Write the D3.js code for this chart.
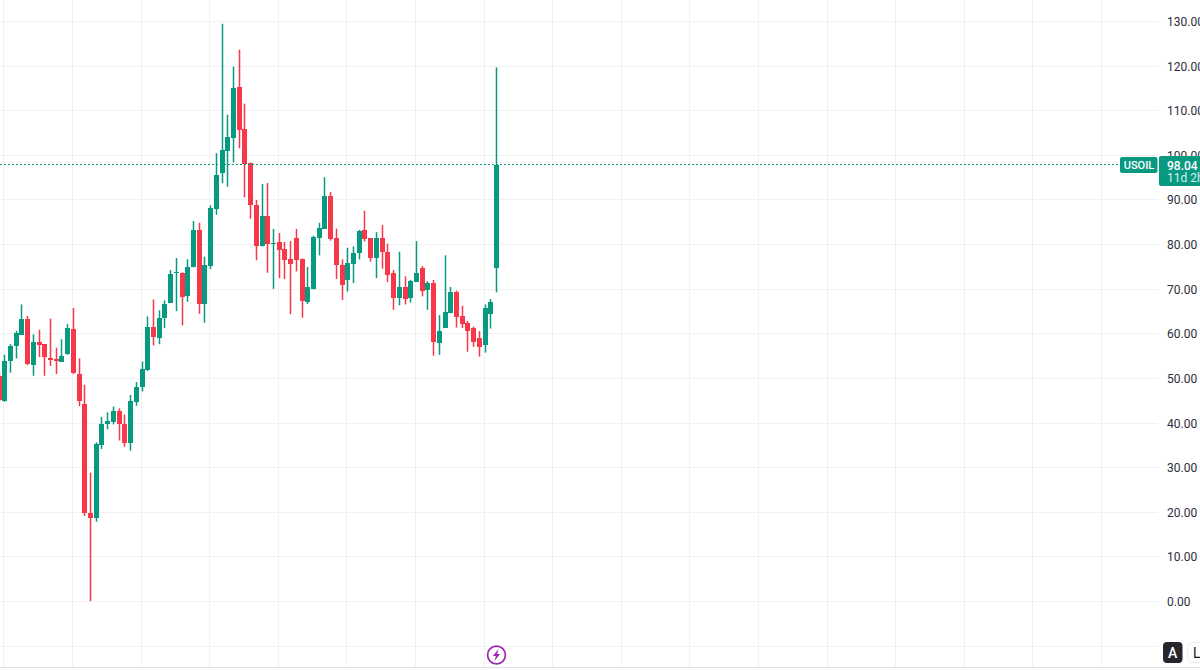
<!DOCTYPE html>
<html>
<head>
<meta charset="utf-8">
<script src="https://cdn.jsdelivr.net/npm/d3@7/dist/d3.min.js"></script>
<style>
html,body{margin:0;padding:0;background:#fff;overflow:hidden}
svg{display:block}
text{font-family:Roboto,"Liberation Sans",sans-serif}
</style>
</head>
<body>
<svg id="chart" width="1200" height="670"></svg>
<script>
// USOIL candles, oldest first
const firstIndex = -1;
const opens  = [50.7,45.1,54.0,57.2,60.0,63.5,53.1,58.3,57.8,54.7,54.4,53.9,55.6,61.2,51.1,44.4,20.0,18.8,35.2,39.8,40.4,42.8,39.9,35.6,44.9,48.2,52.0,61.7,59.3,63.5,67.0,73.6,73.8,68.5,75.0,83.3,66.8,75.3,88.1,96.1,101.1,103.9,115.4,106.1,98.4,89.0,79.7,86.5,80.3,80.7,79.1,76.8,81.5,76.8,67.3,70.2,81.6,83.6,90.9,81.6,75.6,72.1,75.8,78.2,83.4,81.6,77.1,81.6,78.5,73.7,68.2,70.6,68.0,71.7,74.9,70.0,71.4,58.1,61.5,64.7,69.5,64.1,62.6,61.4,59.2,57.5,64.6,75.0];
const highs  = [51.5,55.4,57.8,60.8,66.7,64.1,60.0,61.0,57.8,63.5,57.0,58.9,62.3,65.9,54.6,48.7,29.0,35.8,41.5,42.5,43.8,43.4,42.0,46.4,49.3,53.9,64.0,67.8,65.4,67.6,74.4,77.1,73.9,76.8,85.4,85.0,77.4,88.9,100.6,129.6,109.2,120.0,123.8,111.7,98.5,90.1,93.7,93.9,83.6,82.7,80.7,80.9,83.6,77.0,75.1,82.1,85.0,95.2,91.9,83.7,76.8,79.4,79.7,83.4,87.7,81.6,82.9,84.5,80.3,74.4,78.5,73.0,72.2,80.9,75.3,71.9,72.2,64.3,77.7,70.6,69.8,66.4,63.0,61.7,60.7,66.7,67.9,119.8];
const lows   = [44.9,44.9,51.4,54.6,60.0,53.1,50.7,54.9,50.7,52.9,51.1,53.9,55.4,51.1,43.9,19.3,0.2,18.0,34.3,38.7,39.8,36.2,34.8,33.9,44.0,47.2,51.8,57.5,57.8,61.4,67.0,65.2,62.0,67.3,75.0,64.6,62.6,74.6,86.8,93.9,93.1,98.5,101.7,90.7,85.9,76.6,79.7,73.8,70.2,72.6,72.4,64.5,74.1,63.7,66.8,70.1,77.7,83.6,81.0,72.4,67.7,69.6,71.5,76.8,80.8,76.3,72.6,74.7,71.7,65.5,66.5,66.7,67.1,71.7,68.5,65.5,55.2,55.4,61.5,64.7,61.5,61.4,56.1,57.2,55.0,55.9,61.3,69.4];
const closes = [45.3,54.1,57.4,60.2,63.5,53.4,58.2,57.6,54.8,54.3,54.0,55.2,61.5,51.3,45.1,20.0,18.9,35.4,39.9,40.5,42.9,39.8,35.6,45.1,48.3,52.2,61.7,59.5,63.7,66.7,73.5,73.9,68.5,75.0,83.3,66.8,75.5,88.3,95.8,101.2,104.2,115.2,105.8,98.3,88.9,79.7,86.5,80.3,80.5,78.8,76.7,75.6,76.5,67.3,70.6,81.9,83.8,90.9,81.2,75.6,71.2,75.9,78.3,83.2,81.3,77.2,81.6,78.5,73.4,68.2,70.6,68.0,71.9,73.8,69.8,71.5,58.1,60.8,65.0,69.5,64.0,62.3,60.8,58.3,57.2,65.9,67.3,98.04];

const priceTicks = [130,120,110,100,90,80,70,60,50,40,30,20,10,0];
const extraGridPrices = [-10];
const lastPrice = 98.04;
const symbolLabel = "USOIL";
const countdownLabel = "11d 2h";

const UP = "#089981", DOWN = "#f7374a", GRID = "#f0f1f3";
const paneRight = 1158;

const svg = d3.select("#chart");
const x = d3.scaleLinear().domain([0, 86]).range([4.3, 496]);
const y = d3.scaleLinear().domain([0, 130]).range([602, 22]);

// Vertical grid falls on every twelfth bar and carries on into the empty space
const gridBars = d3.range(0, 193, 12);
const grid = svg.append("g").attr("shape-rendering", "crispEdges");
grid.selectAll("line.v").data(gridBars).join("line").attr("class", "v")
  .attr("x1", d => Math.round(x(d)) - .5).attr("x2", d => Math.round(x(d)) - .5)
  .attr("y1", 0).attr("y2", 667).attr("stroke", GRID).attr("stroke-width", 1);
grid.selectAll("line.h").data(priceTicks.concat(extraGridPrices)).join("line").attr("class", "h")
  .attr("x1", 0).attr("x2", paneRight)
  .attr("y1", d => Math.round(y(d)) - .5).attr("y2", d => Math.round(y(d)) - .5)
  .attr("stroke", GRID);

// Candles: a soft wick behind a solid body
const bars = opens.map((o, i) => ({i: i + firstIndex, o, h: highs[i], l: lows[i], c: closes[i]}));
const candle = svg.append("g")
  .selectAll("g").data(bars).join("g")
  .attr("fill", d => d.c >= d.o ? UP : DOWN);
candle.append("rect")
  .attr("x", d => Math.round(x(d.i)) - .25)
  .attr("width", 1.5)
  .attr("y", d => y(d.h))
  .attr("height", d => y(d.l) - y(d.h));
candle.append("rect")
  .attr("x", d => Math.round(x(d.i)) - 2)
  .attr("width", 5)
  .attr("y", d => Math.round(y(Math.max(d.o, d.c))))
  .attr("height", d => Math.max(1, Math.round(Math.abs(y(d.o) - y(d.c)))));

// Last price line
const tagY = Math.floor(y(lastPrice));
svg.append("line")
  .attr("x1", 0).attr("x2", 1120)
  .attr("y1", tagY + .5).attr("y2", tagY + .5)
  .attr("stroke", UP).attr("stroke-dasharray", "2 2")
  .attr("shape-rendering", "crispEdges");

// Price scale labels
svg.append("g").selectAll("text").data(priceTicks).join("text")
  .attr("x", 1167).attr("y", d => y(d) + 4)
  .attr("font-size", 12).attr("fill", "#2a2e39")
  .text(d => d.toFixed(2));

// Symbol and last price tags
svg.append("rect").attr("x", 1120).attr("y", tagY - 7).attr("width", 37.5).attr("height", 16).attr("rx", 2).attr("fill", UP);
svg.append("text").attr("x", 1139).attr("y", tagY + 5).attr("text-anchor", "middle")
  .attr("font-size", 11).attr("font-weight", 500).attr("fill", "#fff").text(symbolLabel);
svg.append("rect").attr("x", 1159).attr("y", tagY - 8).attr("width", 44).attr("height", 30).attr("rx", 2).attr("fill", UP);
svg.append("text").attr("x", 1167).attr("y", tagY + 5.5)
  .attr("font-size", 12).attr("font-weight", 500).attr("fill", "#fff").text(lastPrice.toFixed(2));
svg.append("text").attr("x", 1167).attr("y", tagY + 18)
  .attr("font-size", 12).attr("fill", "#d9f0ec").text(countdownLabel);

// Lightning badge under the latest bar
const badge = svg.append("g").attr("transform", "translate(496.5,655)");
badge.append("circle").attr("r", 8.9).attr("fill", "#fff").attr("stroke", "#9c27b0").attr("stroke-width", 1.7);
badge.append("path").attr("d", "M2,-6 L-3.6,1 L-0.6,1 L-2,6 L3.6,-1 L0.6,-1 Z").attr("fill", "#9c27b0");

// Corner buttons and the pane's lower edge
svg.append("rect").attr("x", 0).attr("y", 667).attr("width", 1200).attr("height", 1).attr("fill", "#e3e0ea");
svg.append("rect").attr("x", 1163).attr("y", 642).attr("width", 19.5).attr("height", 21).attr("rx", 4).attr("fill", "#26272c");
svg.append("text").attr("x", 1172.7).attr("y", 657.5).attr("text-anchor", "middle")
  .attr("font-size", 14).attr("font-weight", 500).attr("fill", "#fff").text("A");
svg.append("rect").attr("x", 1187.5).attr("y", 642.5).attr("width", 20).attr("height", 20).attr("rx", 4)
  .attr("fill", "#fff").attr("stroke", "#eceef2");
svg.append("text").attr("x", 1193).attr("y", 657.5).attr("font-size", 14).attr("fill", "#131722").text("L");
</script>
</body>
</html>
